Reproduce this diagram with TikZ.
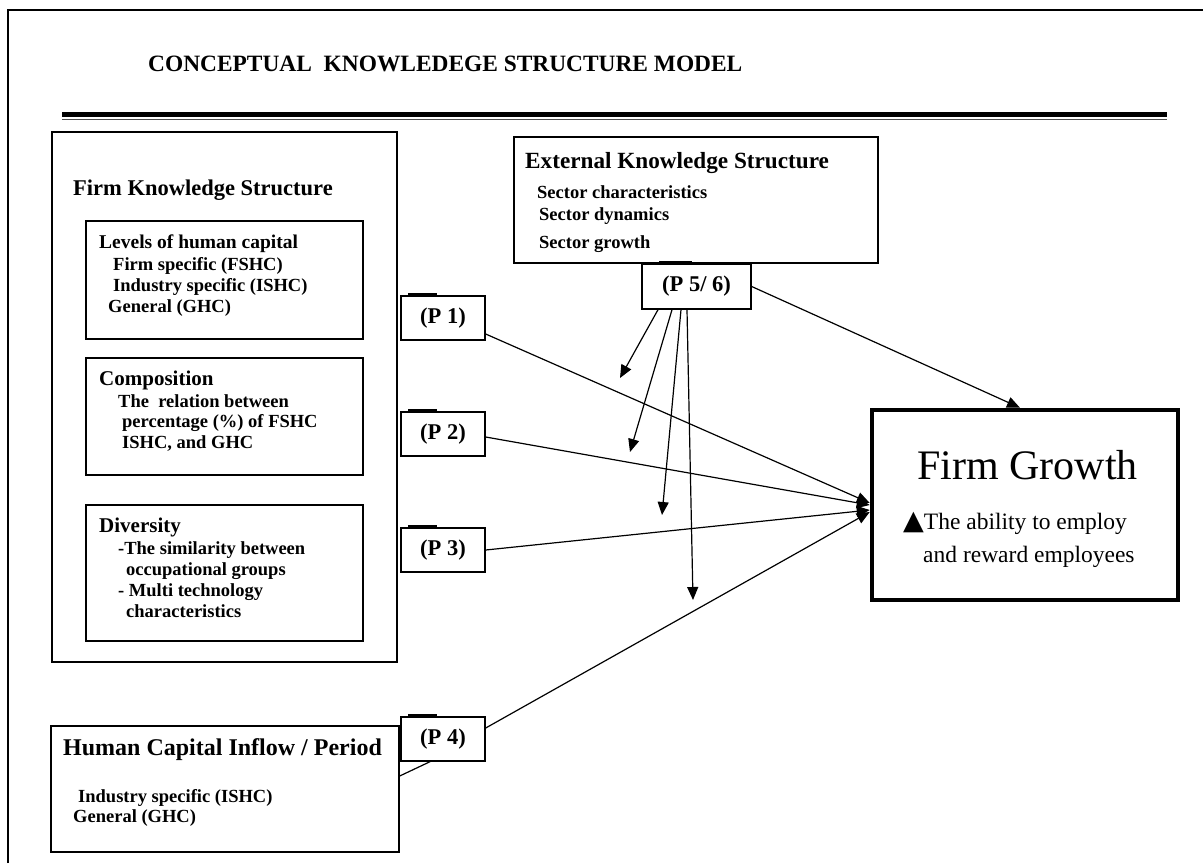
\documentclass[tikz,border=0pt]{standalone}
\usepackage{fontspec}
\setmainfont{Liberation Serif}
\newfontfamily\symbfont{DejaVu Sans}
\usepackage{tikz}
\usetikzlibrary{positioning,arrows.meta}

\newcommand{\titlefont}{\fontsize{23.4}{28}\selectfont\bfseries}
\newcommand{\headfont}{\fontsize{22.5}{27}\selectfont\bfseries}
\newcommand{\subfont}{\fontsize{21}{25}\selectfont\bfseries}
\newcommand{\bodyfont}{\fontsize{18.5}{21}\selectfont\bfseries}

\begin{document}
\begin{tikzpicture}[
    x=1pt, y=-1pt,
    >={Triangle[length=13pt,width=11pt]},
    box/.style={draw, line width=1.4pt, inner sep=0pt},
    pbox/.style={draw, line width=1.4pt, inner sep=0pt, minimum width=84pt,
      minimum height=44pt, font=\headfont},
    txt/.style={anchor=base west, inner sep=0pt},
    link/.style={->, line width=1.2pt},
    tab/.style={line width=2pt}
  ]
  \useasboundingbox (0,0) rectangle (1203,863);

  % cornice e titolo
  \draw[line width=1.5pt] (8,863) -- (8,10) -- (1203,10);
  \node[txt, font=\titlefont] (title) at (148,71) {CONCEPTUAL\ \ KNOWLEDEGE STRUCTURE MODEL};
  \fill (62,112) rectangle (1167,117);
  \draw[line width=1pt, black!70] (62,119) -- (1167,119);

  % blocchi
  \node[box, minimum width=345pt, minimum height=530pt] (firmks) at (224.5,397) {};
  \node[box, minimum width=277pt, minimum height=118pt] (levels) at (224.5,280) {};
  \node[box, minimum width=277pt, minimum height=117pt] (compo) at (224.5,416.5) {};
  \node[box, minimum width=277pt, minimum height=136pt] (divers) at (224.5,573) {};
  \node[box, minimum width=348pt, minimum height=126pt] (hcinflow) at (225,789) {};
  \node[box, minimum width=364pt, minimum height=126pt] (extks) at (696,200) {};
  \node[box, line width=4.5pt, minimum width=306pt, minimum height=190pt] (growth) at (1025,505) {};

  \node[pbox] (p1) at (443,318) {(P 1)};
  \node[pbox] (p2) at (443,434) {(P 2)};
  \node[pbox] (p3) at (443,550) {(P 3)};
  \node[pbox] (p4) at (443,739) {(P 4)};
  \node[pbox, minimum width=109pt, minimum height=45pt] (p56) at (696.5,286.5) {(P 5/ 6)};

  % testi
  \node[txt, font=\headfont] (firmhead) at (73,195) {Firm Knowledge Structure};

  \node[txt, font=\fontsize{19.5}{25}\selectfont\bfseries] (levhead) at (99,248) {Levels of human capital};
  \node[txt, font=\bodyfont] (lev1) at (113,270) {Firm specific (FSHC)};
  \node[txt, font=\bodyfont] (lev2) at (113,291) {Industry specific (ISHC)};
  \node[txt, font=\bodyfont] (lev3) at (108,312) {General (GHC)};

  \node[txt, font=\subfont] (comphead) at (99,385) {Composition};
  \node[txt, font=\bodyfont] (comp1) at (118,407) {The\ \ relation between};
  \node[txt, font=\bodyfont] (comp2) at (122,427) {percentage (\%) of FSHC};
  \node[txt, font=\bodyfont] (comp3) at (122,448) {ISHC, and GHC};

  \node[txt, font=\subfont] (divhead) at (99,532) {Diversity};
  \node[txt, font=\bodyfont] (div1) at (118,554) {-The similarity between};
  \node[txt, font=\bodyfont] (div2) at (126,575) {occupational groups};
  \node[txt, font=\bodyfont] (div3) at (118,596) {- Multi technology};
  \node[txt, font=\bodyfont] (div4) at (126,617) {characteristics};

  \node[txt, font=\fontsize{23.2}{27}\selectfont\bfseries] (exthead) at (525,168) {External Knowledge Structure};
  \node[txt, font=\bodyfont] (ext1) at (537,198) {Sector characteristics};
  \node[txt, font=\bodyfont] (ext2) at (539,220) {Sector dynamics};
  \node[txt, font=\bodyfont] (ext3) at (539,248) {Sector growth};

  \node[txt, font=\fontsize{24}{28}\selectfont\bfseries] (hchead) at (63,755) {Human Capital Inflow / Period};
  \node[txt, font=\bodyfont] (hc1) at (78,802) {Industry specific (ISHC)};
  \node[txt, font=\bodyfont] (hc2) at (73,822) {General (GHC)};

  \node[txt, font=\fontsize{42}{48}\selectfont] (grhead) at (917,479) {Firm Growth};
  \node[txt, font=\fontsize{23.5}{28}\selectfont] (gr1) at (903,529) {{\symbfont\fontsize{27}{28}\selectfont ▲}The ability to employ};
  \node[txt, font=\fontsize{23.5}{28}\selectfont] (gr2) at (923,562) {and reward employees};

  % linguette sopra le P
  \draw[tab] ([xshift=8pt,yshift=1pt]p1.north west) -- ++(29,0);
  \draw[tab] ([xshift=8pt,yshift=1pt]p2.north west) -- ++(29,0);
  \draw[tab] ([xshift=8pt,yshift=1pt]p3.north west) -- ++(29,0);
  \draw[tab] ([xshift=8pt,yshift=1pt]p4.north west) -- ++(29,0);
  \draw[tab] ([xshift=18pt,yshift=1pt]p56.north west) -- ++(33,0);

  % collegamenti verso Firm Growth
  \draw[link] ([yshift=-16pt]p1.east) -- ([yshift=2pt]growth.west);
  \draw[link] ([yshift=-3pt]p2.east) -- (growth.west);
  \draw[link] (p3.east) -- ([yshift=-5pt]growth.west);
  \draw[link] ([yshift=11pt]p4.east) -- ([yshift=-7pt]growth.west);
  \draw[line width=1.2pt] ([yshift=13pt]hcinflow.east) -- ([xshift=-13pt]p4.south);
  \draw[link] (p56.east) -- ([xshift=-5pt]growth.north);

  % frecce dal settore
  \coordinate (tip1) at (620,378);
  \coordinate (tip2) at (630,452);
  \coordinate (tip3) at (662,515);
  \coordinate (tip4) at (693,600);
  \draw[link] ([xshift=-38.5pt]p56.south) -- (tip1);
  \draw[link] ([xshift=-24.5pt]p56.south) -- (tip2);
  \draw[link] ([xshift=-15.5pt]p56.south) -- (tip3);
  \draw[link] ([xshift=-9.5pt]p56.south) -- (tip4);

\end{tikzpicture}
\end{document}
